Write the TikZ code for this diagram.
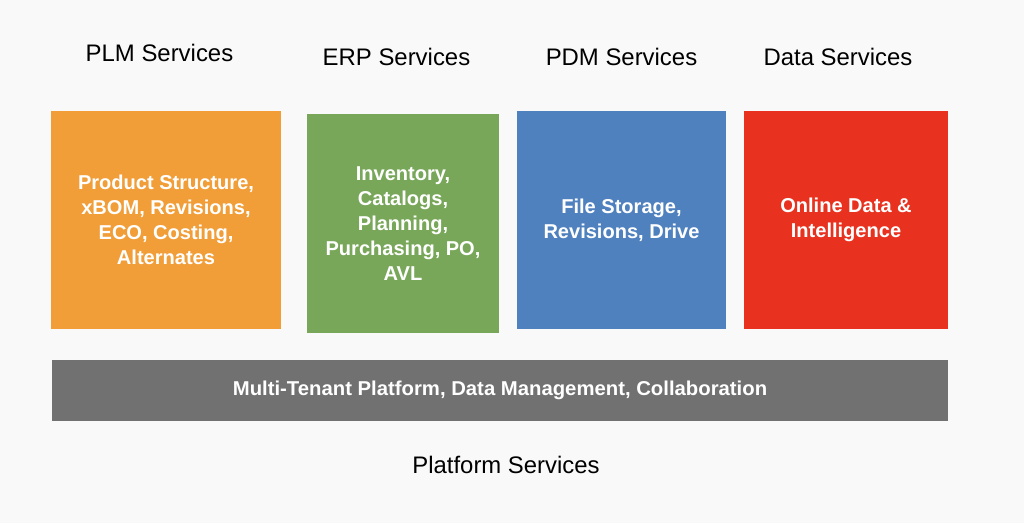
\documentclass[tikz,border=0pt]{standalone}
\usepackage{fontspec}
\setmainfont{Liberation Sans}
\usetikzlibrary{positioning}

\definecolor{bgcol}{HTML}{F9F9F9}
\definecolor{plmorange}{HTML}{F19E38}
\definecolor{erpgreen}{HTML}{78A75A}
\definecolor{pdmblue}{HTML}{5081BF}
\definecolor{datared}{HTML}{E8321F}
\definecolor{platgray}{HTML}{717171}

\begin{document}
\begin{tikzpicture}[x=0.01cm, y=-0.01cm,
    svcbox/.style={inner sep=0pt, align=center, text=white,
      font=\fontsize{5.7}{7.1}\selectfont\bfseries},
    svctitle/.style={inner sep=0pt, font=\fontsize{6.8}{8}\selectfont}]
    \fill [bgcol] (0,0) rectangle (1024,523);
    % service titles
    \node [svctitle] (plmtitle) at (159.5,53) {PLM Services};
    \node [svctitle] (erptitle) at (396.5,57) {ERP Services};
    \node [svctitle] (pdmtitle) at (621.5,57) {PDM Services};
    \node [svctitle] (datatitle) at (838,57) {Data Services};
    % service boxes
    \node [svcbox, fill=plmorange, minimum width=2.30cm, minimum height=2.18cm] (plm) at (166,220)
      {Product Structure,\\xBOM, Revisions,\\ECO, Costing,\\Alternates};
    \node [svcbox, fill=erpgreen, minimum width=1.92cm, minimum height=2.19cm] (erp) at (403,223.5)
      {Inventory,\\Catalogs,\\Planning,\\Purchasing, PO,\\AVL};
    \node [svcbox, fill=pdmblue, minimum width=2.09cm, minimum height=2.18cm] (pdm) at (621.5,220)
      {File Storage,\\Revisions, Drive};
    \node [svcbox, fill=datared, minimum width=2.04cm, minimum height=2.18cm] (data) at (846,220)
      {Online Data \&\\Intelligence};
    % platform
    \node [svcbox, fill=platgray, minimum width=8.96cm, minimum height=0.61cm] (platform) at (500,390.5)
      {\resizebox{5.34cm}{\height}{Multi-Tenant Platform, Data Management, Collaboration}};
    \node [svctitle] (plattitle) at (506,465) {\resizebox{1.87cm}{\height}{Platform Services}};
\end{tikzpicture}
\end{document}
